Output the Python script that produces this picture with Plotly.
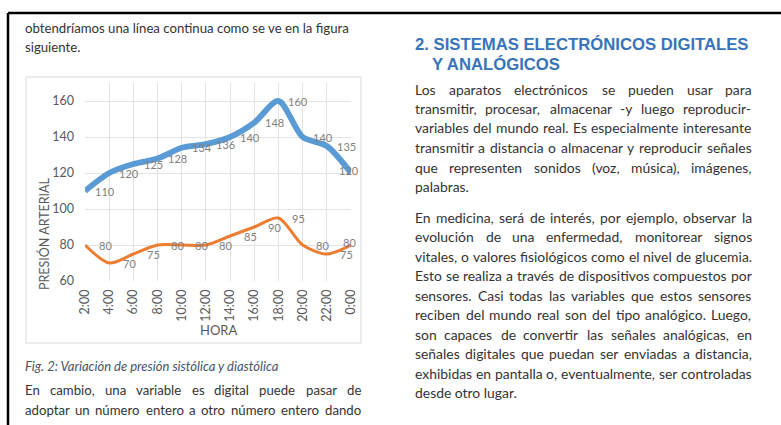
import glob
import struct
import subprocess
import plotly.graph_objects as go

W, H = 781, 425

horas = ["2:00", "4:00", "6:00", "8:00", "10:00", "12:00", "14:00", "16:00", "18:00", "20:00", "22:00", "0:00"]
sistolica = [110, 120, 125, 128, 134, 136, 140, 148, 160, 140, 135, 120]
diastolica = [80, 70, 75, 80, 80, 80, 85, 90, 95, 80, 75, 80]

left_top = ["obtendríamos una línea continua como se ve en la figura", "siguiente."]
caption = "Fig. 2: Variación de presión sistólica y diastólica"
left_bottom = ["En cambio, una variable es digital puede pasar de",
               "adoptar un número entero a otro número entero dando"]
heading = ["2. SISTEMAS ELECTRÓNICOS DIGITALES", "Y ANALÓGICOS"]
para1 = ["Los aparatos electrónicos se pueden usar para",
         "transmitir, procesar, almacenar -y luego reproducir-",
         "variables del mundo real.  Es especialmente interesante",
         "transmitir a distancia o almacenar y reproducir señales",
         "que representen sonidos (voz, música), imágenes,",
         "palabras."]
para2 = ["En medicina, será de interés, por ejemplo, observar la",
         "evolución de una enfermedad, monitorear signos",
         "vitales, o valores fisiológicos como el nivel de glucemia.",
         "Esto se realiza a través de dispositivos compuestos por",
         "sensores.  Casi todas las variables que estos sensores",
         "reciben del mundo real son del tipo analógico. Luego,",
         "son capaces de convertir las señales analógicas, en",
         "señales digitales que puedan ser enviadas a distancia,",
         "exhibidas en pantalla o, eventualmente, ser controladas",
         "desde otro lugar."]

BODY_FONT = "Lato"
BODY_COLOR = "#333333"


# ---------- minimal font metrics reader (for justified text) ----------
def find_font(name, fname):
    hits = glob.glob("/usr/share/fonts/**/" + fname, recursive=True) + \
        glob.glob("/usr/local/share/fonts/**/" + fname, recursive=True)
    if hits:
        return hits[0]
    try:
        out = subprocess.run(["fc-match", "-f", "%{file}", name], capture_output=True, text=True, timeout=5).stdout
        return out.strip() or None
    except Exception:
        return None


def load_metrics(path):
    data = open(path, "rb").read()
    num = struct.unpack(">H", data[4:6])[0]
    tables = {}
    for i in range(num):
        tag, _, off, ln = struct.unpack(">4sIII", data[12 + 16 * i:28 + 16 * i])
        tables[tag.decode("latin1")] = off
    upem = struct.unpack(">H", data[tables["head"] + 18:tables["head"] + 20])[0]
    nhm = struct.unpack(">H", data[tables["hhea"] + 34:tables["hhea"] + 36])[0]
    o = tables["hmtx"]
    adv = [struct.unpack(">H", data[o + 4 * i:o + 4 * i + 2])[0] for i in range(nhm)]
    c = tables["cmap"]
    n = struct.unpack(">H", data[c + 2:c + 4])[0]
    sub = None
    for i in range(n):
        pid, eid, so = struct.unpack(">HHI", data[c + 4 + 8 * i:c + 12 + 8 * i])
        if struct.unpack(">H", data[c + so:c + so + 2])[0] == 4:
            sub = c + so
            break
    segx2 = struct.unpack(">H", data[sub + 6:sub + 8])[0]
    segs = segx2 // 2
    ends = struct.unpack(">%dH" % segs, data[sub + 14:sub + 14 + segx2])
    starts = struct.unpack(">%dH" % segs, data[sub + 16 + segx2:sub + 16 + 2 * segx2])
    deltas = struct.unpack(">%dh" % segs, data[sub + 16 + 2 * segx2:sub + 16 + 3 * segx2])
    rpos = sub + 16 + 3 * segx2
    roffs = struct.unpack(">%dH" % segs, data[rpos:rpos + segx2])

    def glyph(ch):
        cp = ord(ch)
        for k in range(segs):
            if ends[k] >= cp:
                if starts[k] > cp:
                    return 0
                if roffs[k] == 0:
                    return (cp + deltas[k]) & 0xFFFF
                addr = rpos + 2 * k + roffs[k] + 2 * (cp - starts[k])
                g = struct.unpack(">H", data[addr:addr + 2])[0]
                return (g + deltas[k]) & 0xFFFF if g else 0
        return 0

    def width(s, size):
        tot = 0
        for ch in s:
            g = glyph(ch)
            tot += adv[g] if g < nhm else adv[-1]
        return tot / upem * size
    return width


try:
    text_width = load_metrics(find_font("Lato", "Lato-Regular.ttf"))
except Exception:
    def text_width(s, size):
        return 0.5 * size * len(s)

# font sizes chosen so natural line widths match the page columns
LEFT_SIZE = max(12.0, min(15.0, 325 / text_width(left_top[0], 1)))
RIGHT_SIZE = max(12.0, min(15.0, 336 / text_width(para2[2], 1)))


def px(x):
    return x / W


def py(y):
    return 1 - y / H


fig = go.Figure()

fig.add_trace(go.Scatter(x=horas, y=sistolica, mode="lines",
                         line=dict(color="#5B9BD5", width=5.8, shape="spline", smoothing=0.8),
                         hoverinfo="skip", showlegend=False))
fig.add_trace(go.Scatter(x=horas, y=diastolica, mode="lines",
                         line=dict(color="#ED7D31", width=3, shape="spline", smoothing=0.8),
                         hoverinfo="skip", showlegend=False))

annotations = []
last = len(horas) - 1
for series in (sistolica, diastolica):
    for i, (h, v) in enumerate(zip(horas, series)):
        annotations.append(dict(x=h, y=v, xref="x", yref="y", text=str(v), showarrow=False,
                                xanchor="center", yanchor="middle",
                                xshift=20 if i < last else -2,
                                yshift=3 if i == last else 0,
                                font=dict(family="Lato", size=11, color="#808080")))


def text_ann(t, x, y, size, color=BODY_COLOR, family=BODY_FONT, anchor="left"):
    annotations.append(dict(x=px(x), y=py(y), xref="paper", yref="paper", text=t, showarrow=False,
                            xanchor=anchor, yanchor="middle", borderpad=0, borderwidth=0,
                            font=dict(family=family, size=size, color=color)))


def justified(t, x0, x1, y, size):
    words = t.split()
    if len(words) < 2:
        text_ann(t, x0, y, size)
        return
    widths = [text_width(w, size) for w in words]
    gap = (x1 - x0 - sum(widths)) / (len(words) - 1)
    x = x0
    for w, wd in zip(words, widths):
        text_ann(w, x, y, size)
        x += wd + gap


def paragraph(lines, x0, x1, y0, step, size, justify_last=False):
    for i, t in enumerate(lines):
        y = y0 + i * step
        if i < len(lines) - 1 or justify_last:
            justified(t, x0, x1, y, size)
        else:
            text_ann(t, x0, y, size)


text_ann(left_top[0], 25, 28, LEFT_SIZE)
text_ann(left_top[1], 25, 47, LEFT_SIZE)
text_ann("<i>" + caption + "</i>", 25, 366, 13, color="#44546A")
paragraph(left_bottom, 25, 361, 390, 19.5, LEFT_SIZE, justify_last=True)

text_ann("<b>" + heading[0] + "</b>", 415, 45, 16.7, color="#3874B9", family="Liberation Sans")
text_ann("<b>" + heading[1] + "</b>", 432, 64, 16.7, color="#3874B9", family="Liberation Sans")
paragraph(para1, 415, 752, 89, 19.5, RIGHT_SIZE)
paragraph(para2, 415, 752, 217, 19.55, RIGHT_SIZE)

# axis titles
annotations.append(dict(x=px(218), y=py(330), xref="paper", yref="paper", text="HORA", showarrow=False,
                        xanchor="center", yanchor="middle", font=dict(family="Lato", size=13, color="#595959")))
annotations.append(dict(x=px(44), y=py(234), xref="paper", yref="paper", text="PRESIÓN ARTERIAL", showarrow=False,
                        textangle=-90, xanchor="center", yanchor="middle",
                        font=dict(family="Lato", size=12.5, color="#595959")))

shapes = [
    dict(type="line", xref="paper", yref="paper", x0=px(8), x1=1, y0=py(13), y1=py(13),
         line=dict(color="black", width=2.5)),
    dict(type="line", xref="paper", yref="paper", x0=px(8), x1=px(8), y0=py(13), y1=0,
         line=dict(color="black", width=2.5)),
    dict(type="rect", xref="paper", yref="paper", x0=px(26), x1=px(361), y0=py(77), y1=py(343),
         line=dict(color="#D9D9D9", width=1), layer="below"),
]

fig.update_layout(
    width=W, height=H, margin=dict(l=0, r=0, t=0, b=0),
    paper_bgcolor="white", plot_bgcolor="white",
    showlegend=False, annotations=annotations, shapes=shapes,
    xaxis=dict(domain=[px(85), px(351)], type="category", range=[0, 11], showgrid=True, gridcolor="#E3E3E3",
               showline=False, zeroline=False, tickangle=-90, ticks="", automargin=False, ticklabelstandoff=5,
               tickfont=dict(family="Lato", size=12.5, color="#595959"), fixedrange=True),
    yaxis=dict(domain=[py(281), py(83)], range=[60, 170], tickvals=[60, 80, 100, 120, 140, 160],
               showgrid=True, gridcolor="#E3E3E3", showline=False, zeroline=False, ticks="", automargin=False,
               ticklabelstandoff=10,
               tickfont=dict(family="Lato", size=12.5, color="#595959"), fixedrange=True),
)

fig.write_html("out.html", config={"displayModeBar": False},
               post_script="document.body.style.margin='0';")
